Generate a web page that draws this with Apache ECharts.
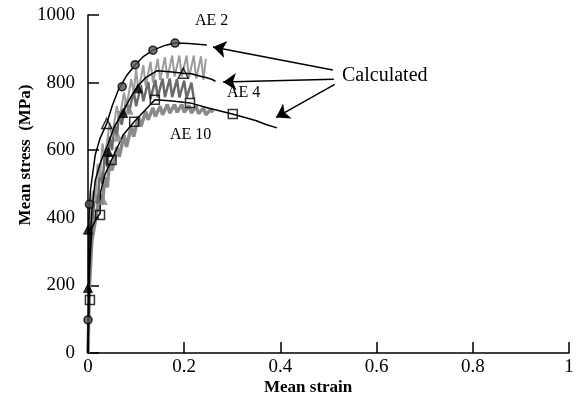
<!DOCTYPE html>
<html><head><meta charset="utf-8">
<script src="https://cdn.jsdelivr.net/npm/echarts/dist/echarts.min.js"></script>
<style>html,body{margin:0;padding:0;background:#fff}#c{width:581px;height:402px}</style>
</head><body><div id="c"></div>
<script>
// Axis ticks
const xTicks = [0, 0.2, 0.4, 0.6, 0.8, 1];
const yTicks = [0, 200, 400, 600, 800, 1000];

// Calculated curves [strain, stress]
const calcAE2 = [[0,0],[0.001,200],[0.002,400],[0.005,480],[0.015,586],[0.025,635],[0.039,679],[0.05,730],[0.063,778],[0.08,820],[0.098,852],[0.115,877],[0.135,896],[0.16,910],[0.181,917],[0.21,916],[0.247,911]];
const calcAE4 = [[0,0],[0.002,180],[0.004,330],[0.008,420],[0.015,510],[0.025,560],[0.042,620],[0.055,670],[0.073,715],[0.09,760],[0.104,790],[0.12,815],[0.143,835],[0.17,832],[0.198,828],[0.215,826],[0.229,820],[0.245,815],[0.257,810],[0.265,804]];
const calcAE10 = [[0,0],[0.003,250],[0.008,370],[0.018,400],[0.025,412],[0.026,476],[0.035,527],[0.049,571],[0.073,645],[0.096,684],[0.139,749],[0.17,746],[0.212,740],[0.25,725],[0.3,707],[0.33,695],[0.35,687],[0.37,676],[0.393,666]];

// Experimental (gray) curves
const expAE2 = [[0,0],[0.002,250],[0.005,420],[0.01,480],[0.015,450],[0.02,560],[0.025,520],[0.03,620],[0.035,580],[0.045,680],[0.05,640],[0.06,730],[0.065,690],[0.075,770],[0.08,730],[0.09,810],[0.095,770],[0.1,840],[0.105,775],[0.115,852],[0.12,790],[0.13,862],[0.135,800],[0.145,870],[0.15,808],[0.16,875],[0.165,812],[0.175,880],[0.18,818],[0.19,880],[0.195,818],[0.205,880],[0.21,815],[0.22,880],[0.225,812],[0.235,878],[0.24,808],[0.245,870]];
const expAE4 = [[0,0],[0.003,250],[0.008,380],[0.012,430],[0.015,470],[0.02,440],[0.025,540],[0.03,500],[0.035,590],[0.04,550],[0.045,640],[0.05,600],[0.055,680],[0.06,640],[0.065,715],[0.07,675],[0.08,750],[0.085,710],[0.095,775],[0.1,730],[0.11,792],[0.115,745],[0.125,802],[0.13,752],[0.14,808],[0.145,756],[0.155,812],[0.16,757],[0.17,812],[0.175,757],[0.185,810],[0.19,756],[0.2,806],[0.205,755],[0.215,800],[0.22,752]];
const expAE10 = [[0,0],[0.003,200],[0.008,330],[0.015,390],[0.02,430],[0.025,470],[0.03,440],[0.035,520],[0.04,490],[0.045,570],[0.05,540],[0.06,610],[0.065,580],[0.075,645],[0.08,610],[0.09,670],[0.095,640],[0.105,700],[0.11,670],[0.12,715],[0.125,690],[0.135,725],[0.14,700],[0.15,730],[0.155,705],[0.165,735],[0.17,710],[0.18,735],[0.185,712],[0.195,735],[0.2,712],[0.21,732],[0.215,710],[0.225,730],[0.23,708],[0.24,725],[0.245,705],[0.255,720],[0.26,712]];

// Markers
const mkAE2 = [[0,98],[0.003,440],[0.071,788],[0.098,853],[0.135,896],[0.181,917]];
const mkAE4filled = [[0,192],[0,365],[0.042,595],[0.073,710],[0.104,783]];
const mkAE4open = [[0.039,679],[0.198,828]];
const mkAE10 = [[0.004,157],[0.025,408],[0.049,571],[0.096,684],[0.139,749],[0.212,740],[0.301,707]];
const mkGray = [[0.031,453],[0.062,640],[0.085,720]];

// Labels
const curveLabels = ['AE 2', 'AE 4', 'AE 10'];
const calcLabel = 'Calculated';
const xName = 'Mean strain';
const yName = 'Mean stress  (MPa)';

const serif = '"Liberation Serif", "DejaVu Serif", serif';
const chart = echarts.init(document.getElementById('c'), null, {renderer: 'canvas'});

function lineS(data, color, width, z) {
  return {type: 'line', data: data, showSymbol: false, symbol: 'none', lineStyle: {color: color, width: width}, z: z, silent: true, animation: false};
}
function scat(data, symbol, size, fill, border, bw) {
  return {type: 'scatter', data: data, symbol: symbol, symbolSize: size, itemStyle: {color: fill, borderColor: border, borderWidth: bw}, z: 10, silent: true, animation: false};
}

const axisCommon = {
  axisLine: {show: true, onZero: false, lineStyle: {color: '#000', width: 1.5}},
  axisTick: {show: true, inside: true, length: 11, lineStyle: {color: '#000', width: 1.5}},
  splitLine: {show: false},
  axisLabel: {color: '#000', fontFamily: serif, fontSize: 19}
};

chart.setOption({
  animation: false,
  backgroundColor: '#fff',
  grid: {left: 88, right: 12, top: 15, bottom: 49, containLabel: false},
  xAxis: Object.assign({type: 'value', min: xTicks[0], max: xTicks[xTicks.length-1], interval: 0.2}, axisCommon,
    {axisLabel: Object.assign({}, axisCommon.axisLabel, {margin: 5, formatter: v => String(+v.toFixed(1))})}),
  yAxis: Object.assign({type: 'value', min: yTicks[0], max: yTicks[yTicks.length-1], interval: 200}, axisCommon,
    {axisLabel: Object.assign({}, axisCommon.axisLabel, {margin: 13, formatter: v => String(v)})}),
  series: [
    lineS(expAE10, '#8a8a8a', 3.5, 2),
    lineS(expAE4, '#6a6a6a', 2.5, 3),
    lineS(expAE2, '#9c9c9c', 2, 3),
    lineS(calcAE2, '#000', 1.5, 5),
    lineS(calcAE4, '#000', 1.5, 5),
    lineS(calcAE10, '#000', 1.5, 5),
    scat(mkGray, 'triangle', 10, '#888', '#888', 0),
    scat(mkAE2, 'circle', 8, '#555', '#000', 1.5),
    scat(mkAE4filled, 'triangle', 9, '#000', '#000', 1),
    scat(mkAE4open, 'triangle', 10, 'rgba(255,255,255,0)', '#000', 1.5),
    scat(mkAE10, 'rect', 9, 'rgba(255,255,255,0)', '#000', 1.5),
    {
      type: 'line', data: [], silent: true, animation: false,
      markLine: {
        silent: true, animation: false,
        symbol: ['none', 'arrow'], symbolSize: 13,
        label: {show: false},
        lineStyle: {color: '#000', width: 1.5, type: 'solid'},
        data: [
          [{coord: [0.509, 837]}, {coord: [0.26, 905]}],
          [{coord: [0.511, 810]}, {coord: [0.281, 802]}],
          [{coord: [0.513, 795]}, {coord: [0.391, 697]}]
        ]
      }
    }
  ],
  graphic: [
    {type: 'text', left: 195, top: 13, style: {text: curveLabels[0], font: '16px ' + serif, fill: '#000'}},
    {type: 'text', left: 227, top: 85, style: {text: curveLabels[1], font: '16px ' + serif, fill: '#000'}},
    {type: 'text', left: 170, top: 127, style: {text: curveLabels[2], font: '16px ' + serif, fill: '#000'}},
    {type: 'text', left: 342, top: 66, style: {text: calcLabel, font: '20px ' + serif, fill: '#000'}},
    {type: 'text', left: 264, top: 379, style: {text: xName, font: 'bold 17px ' + serif, fill: '#000'}},
    {type: 'text', x: 26, y: 155, rotation: Math.PI / 2, style: {text: yName, font: 'bold 17px ' + serif, fill: '#000', textAlign: 'center', textVerticalAlign: 'middle'}}
  ]
});
</script></body></html>
